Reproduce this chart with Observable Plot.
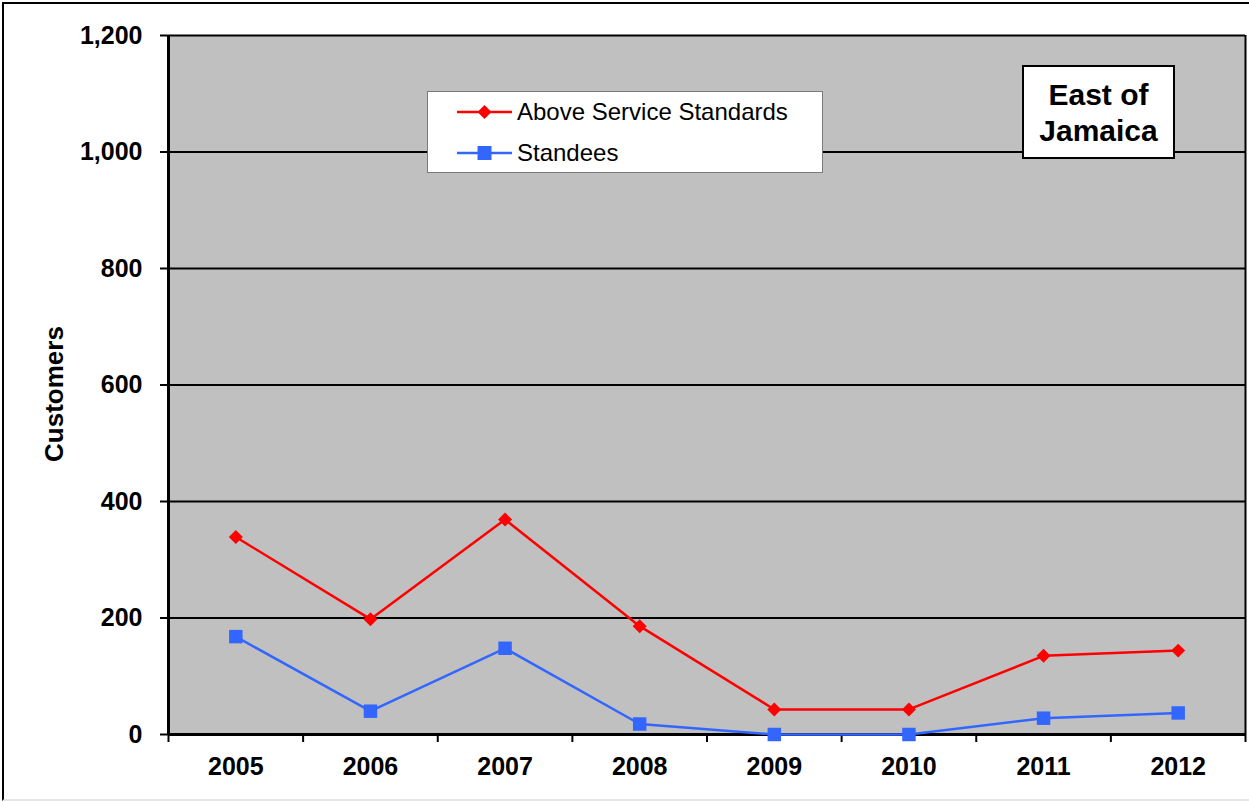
<!DOCTYPE html>
<html>
<head>
<meta charset="utf-8">
<script src="https://cdn.jsdelivr.net/npm/d3@7"></script>
<script src="https://cdn.jsdelivr.net/npm/@observablehq/plot@0.6"></script>
<style>
  html, body { margin: 0; padding: 0; background: #fff; overflow: hidden; }
  #wrap { position: relative; width: 1249px; height: 802px; font-family: "Liberation Sans", Arial, sans-serif; }
  #outer { position: absolute; left: 2px; top: 2px; width: 1260px; height: 795px; border: 2px solid #000; border-bottom-color: #e6e6e6; pointer-events: none; }
  #legend { position: absolute; left: 427px; top: 91px; width: 394px; height: 80px; background: #fff; border: 1px solid #7a7a7a; }
  #title { position: absolute; left: 1022px; top: 65px; width: 149px; height: 80px; padding-top: 10px; background: #fff; border: 2px solid #000;
           font-weight: bold; font-size: 30px; line-height: 36px; text-align: center; color: #000; }
</style>
</head>
<body>
<div id="wrap">
  <div id="chart"></div>
  <div id="legend"></div>
  <div id="title">East of<br>Jamaica</div>
  <div id="outer"></div>
</div>
<script>
const years = [2005, 2006, 2007, 2008, 2009, 2010, 2011, 2012];
const aboveService = [339, 198, 369, 186, 43, 43, 135, 144];
const standees = [168, 40, 148, 18, 0, 0, 28, 37];
const yTicks = [0, 200, 400, 600, 800, 1000, 1200];
const seriesNames = ["Above Service Standards", "Standees"];
const seriesColors = ["#FF0000", "#3366FF"];

const data = years.map((year, i) => ({year, above: aboveService[i], standees: standees[i]}));
const bounds = years.map(y => y - 0.5).concat([years[years.length - 1] + 0.5]);
const fmt = d3.format(",");

const chart = Plot.plot({
  width: 1249,
  height: 802,
  marginLeft: 168,
  marginRight: 4,
  marginTop: 35,
  marginBottom: 68,
  style: {fontFamily: "'Liberation Sans', Arial, sans-serif", background: "transparent", color: "black", overflow: "visible"},
  x: {type: "linear", domain: [bounds[0], bounds[bounds.length - 1]]},
  y: {domain: [0, 1200]},
  marks: [
    Plot.frame({fill: "#C0C0C0"}),
    Plot.ruleY(yTicks, {stroke: "black", strokeWidth: 2}),
    Plot.ruleX([bounds[bounds.length - 1]], {stroke: "black", strokeWidth: 2}),
    Plot.ruleX([bounds[0]], {stroke: "black", strokeWidth: 3}),
    Plot.ruleY([0], {stroke: "black", strokeWidth: 3}),
    Plot.axisY({ticks: yTicks, tickSize: 8, tickPadding: 18, tickFormat: d => fmt(d), fontSize: 25, fontWeight: "bold", label: null, strokeWidth: 2}),
    Plot.axisX({ticks: bounds, tickSize: 8, tickFormat: () => "", label: null, strokeWidth: 2}),
    Plot.axisX({ticks: years, tickSize: 0, tickPadding: 23, tickFormat: d => String(d), fontSize: 25, fontWeight: "bold", label: null}),
    Plot.text(["Customers"], {frameAnchor: "left", textAnchor: "middle", rotate: -90, dx: -114, dy: 9, fontSize: 26, fontWeight: "bold", fill: "black"}),
    Plot.line(data, {x: "year", y: "above", stroke: seriesColors[0], strokeWidth: 2.5}),
    Plot.line(data, {x: "year", y: "standees", stroke: seriesColors[1], strokeWidth: 2.5}),
    Plot.dot(data, {x: "year", y: "above", symbol: "diamond2", r: 6.3, fill: seriesColors[0], stroke: "none"}),
    Plot.dot(data, {x: "year", y: "standees", symbol: "square", r: 7.6, fill: seriesColors[1], stroke: "none"})
  ]
});
document.getElementById("chart").appendChild(chart);

// Legend
const lg = d3.select("#legend").append("svg").attr("width", 394).attr("height", 80);
const rowsY = [20, 61];
seriesNames.forEach((name, i) => {
  const g = lg.append("g").attr("transform", `translate(0,${rowsY[i]})`);
  g.append("line").attr("x1", 29).attr("x2", 84).attr("y1", 0).attr("y2", 0)
    .attr("stroke", seriesColors[i]).attr("stroke-width", 2.5);
  if (i === 0) {
    g.append("path").attr("d", "M56.5,-7 L63.5,0 L56.5,7 L49.5,0 Z").attr("fill", seriesColors[i]);
  } else {
    g.append("rect").attr("x", 49.5).attr("y", -7).attr("width", 14).attr("height", 14).attr("fill", seriesColors[i]);
  }
  g.append("text").attr("x", 89).attr("y", 0).attr("dy", "0.35em")
    .attr("font-size", 24).attr("font-family", "'Liberation Sans', Arial, sans-serif").attr("fill", "#000").text(name);
});
</script>
</body>
</html>
